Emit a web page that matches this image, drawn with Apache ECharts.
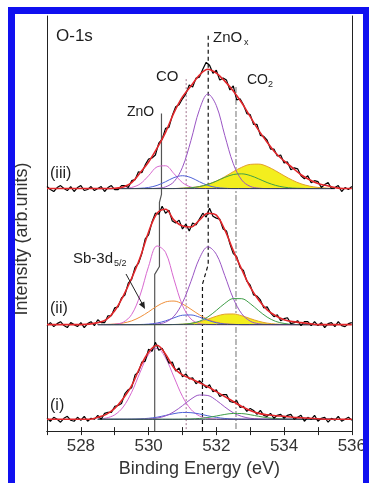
<!DOCTYPE html>
<html>
<head>
<meta charset="utf-8">
<script src="https://cdn.jsdelivr.net/npm/echarts@6/dist/echarts.min.js"></script>
<style>
html,body{margin:0;padding:0;background:#fff;}
#chart{width:369px;height:483px;}
</style>
</head>
<body>
<div id="chart"></div>
<script>
// energy grids (eV)
var dataE = [
	527.0,527.1,527.2,527.3,527.4,527.5,527.6,527.7,527.8,527.9,
	528.0,528.1,528.2,528.3,528.4,528.5,528.6,528.7,528.8,528.9,
	529.0,529.1,529.2,529.3,529.4,529.5,529.6,529.7,529.8,529.9,
	530.0,530.1,530.2,530.3,530.4,530.5,530.6,530.7,530.8,530.9,
	531.0,531.1,531.2,531.3,531.4,531.5,531.6,531.7,531.8,531.9,
	532.0,532.1,532.2,532.3,532.4,532.5,532.6,532.7,532.8,532.9,
	533.0,533.1,533.2,533.3,533.4,533.5,533.6,533.7,533.8,533.9,
	534.0,534.1,534.2,534.3,534.4,534.5,534.6,534.7,534.8,534.9,
	535.0,535.1,535.2,535.3,535.4,535.5,535.6,535.7,535.8,535.9,
	536.0];
var fitE = [527,527.25,527.5,527.75,528,528.25,528.5,528.75,529,529.25,529.5,529.75,
	530,530.25,530.5,530.75,531,531.25,531.5,531.75,532,532.25,532.5,532.75,
	533,533.25,533.5,533.75,534,534.25,534.5,534.75,535,535.25,535.5,535.75,536];
var compE = [528.5,528.75,529,529.25,529.5,529.75,530,530.25,530.5,530.75,531,531.25,531.5,531.75,
	532,532.25,532.5,532.75,533,533.25,533.5,533.75,534,534.25,534.5,534.75,535,535.25,535.5];
var bgE = [528.5, 535.5];
var bgLevel = [0, 0];

// vertical offsets of the stacked spectra
var offIII = 246, offII = 108, offI = 12;

// ---- (iii)
var rawIII = [
	2,-1,-3,1,3,0,-2,2,-3,1,
	3,-2,-1,2,-2,0,2,-3,1,3,
	-1,-1,3,3,1,8,9,17,16,24,
	30,31,34,46,50,61,62,74,83,85,
	91,96,105,103,112,113,121,128,125,117,
	120,110,112,110,100,104,90,91,85,76,
	75,65,65,54,53,49,40,40,33,34,
	26,27,19,21,20,13,10,13,6,8,
	7,1,4,6,0,1,3,-3,1,-1,
	2];
var fitIII = [0,0,0,0,0,0,0,0,0.3,1.5,6,16,27,41,57,77,93,104,115,121,117,109,99,87,73,59,47,36,28,21,14,9,5,3,1,0,0];
var znoIII  = [0,0,0,0.2,1.1,4.7,13,22,23.1,15.1,6,1.5,0.2,0,0,0,0,0,0,0,0,0,0,0,0,0,0,0,0];
var coIII   = [0,0,0,0,0,0.3,1.1,3.2,6.9,11.1,13,11.1,6.9,3.2,1.1,0.3,0,0,0,0,0,0,0,0,0,0,0,0,0];
var znoxIII = [0,0,0,0,0,0,0,0.3,1.7,7,21.6,48.7,79.9,95.9,84.1,53.8,25.2,8.6,2.2,0.4,0,0,0,0,0,0,0,0,0];
var co2III  = [0,0,0,0,0,0,0,0,0,0,0.3,0.8,2,4.2,7.5,11.3,14.2,14.9,13.2,9.8,6.1,3.2,1.4,0.5,0.2,0,0,0,0];
var yelIII  = [0,0,0,0,0,0,0,0,0,0,0.4,1,2.1,4.3,7.6,12,17.1,21.6,24.5,24.8,22.4,18,13,8.4,4.8,2.5,1.1,0.5,0.2];

// ---- (ii)
var rawII = [
	-1,2,-2,1,3,-1,-3,2,0,-2,
	2,-3,1,3,-1,5,2,2,9,9,
	17,18,27,30,42,46,58,62,72,87,
	91,104,113,112,120,113,116,105,103,106,
	97,102,95,103,101,107,113,109,118,110,
	108,107,97,95,82,72,69,58,55,44,
	40,30,29,25,17,18,12,8,10,4,
	6,7,1,2,4,-1,3,3,-1,3,
	-1,2,-3,1,2,-2,3,-1,-2,1,
	2];
var fitII = [0,0,0,0,0,0.5,2,5,14,29,47,68,94,113,117,106,100,99,106,113,111,96,75,56,38,25,15,9,5,3,2,1,0,0,0,0,0];
var znoII  = [0,0,0.4,2.4,10.3,29.9,59.1,79.8,73.3,45.8,19.5,5.7,1.1,0.2,0,0,0,0,0,0,0,0,0,0,0,0,0,0,0];
var sbII   = [0.1,0.2,0.6,1.6,3.8,7.7,13,18.8,23,23.9,20.9,15.6,9.9,5.3,2.4,0.9,0.3,0,0,0,0,0,0,0,0,0,0,0,0];
var coII   = [0,0,0,0,0,0.1,0.5,1.6,3.8,6.9,9.5,9.8,7.6,4.4,1.9,0.6,0.2,0,0,0,0,0,0,0,0,0,0,0,0];
var znoxII = [0,0,0,0,0,0,0.1,0.6,2.5,8.5,22.1,43.8,67.1,78.9,71.3,49.7,26.6,11,3.5,0.9,0.2,0,0,0,0,0,0,0,0];
var co2II  = [0,0,0,0,0,0,0,0,0,0.1,0.4,1.2,3.4,7.8,14.4,21.5,26.4,26.3,21.3,14.1,7.6,3.3,1.2,0.3,0,0,0,0,0];
var yelII  = [0,0,0,0,0,0,0,0,0,0.1,0.4,1.3,2.9,5.5,8.5,10.6,10.8,9,6.1,3.4,1.5,0.6,0.2,0,0,0,0,0,0];

// ---- (i)
var rawI = [
	1,-2,2,0,-3,1,3,-1,-2,2,
	-1,3,-2,1,0,4,0,6,7,7,
	13,14,16,26,30,32,45,48,58,59,
	71,69,78,70,72,65,57,58,49,52,
	43,46,41,42,36,39,36,32,35,28,
	30,23,25,25,18,17,19,12,13,8,
	11,9,5,9,4,3,6,1,4,5,
	1,4,5,0,2,4,-2,2,0,4,
	-2,1,2,-3,1,-1,3,-2,0,2,
	-1];
var fitI = [0,0,0,0,0,0,2,5,11,21,34,53,68,75,66,52,45,41,37,33,28,23,18,13,9,6,4.5,3.5,3,2,1.5,1,0.5,0,0,0,0];
var znoI  = [0.3,1.3,4.5,12.5,27.4,47.7,65.8,71.9,62.2,42.7,23.2,10,3.4,0.9,0.2,0,0,0,0,0,0,0,0,0,0,0,0,0,0];
var znoxI = [0,0,0,0,0,0.1,0.4,1.2,3.4,7.7,13.8,20.4,24.6,24.1,19.2,12.5,6.6,2.9,1,0.3,0,0,0,0,0,0,0,0,0];
var coI   = [0,0,0,0,0.1,0.4,1,2.1,3.9,5.7,6.9,6.7,5.4,3.5,1.9,0.8,0.3,0.1,0,0,0,0,0,0,0,0,0,0,0];
var co2I  = [0,0,0,0,0,0,0,0,0,0,0.1,0.3,0.8,1.8,3.3,4.9,5.9,5.8,4.6,3,1.6,0.7,0.2,0,0,0,0,0,0];

// reference lines [energy, intensity]
var znoRef  = [[530.38,322],[530.38,240],[530.32,232],[530.32,167],[530.18,159],[530.18,0]];
var coRef   = [[531.11,357],[531.11,0]];
var znoxRef = [[531.76,401],[531.76,169],[531.59,149],[531.59,0]];
var co2Ref  = [[532.58,349],[532.58,0]];

var xTicks = [528, 530, 532, 534, 536];

function pairs(xs, ys, off){
	var out = [];
	for(var i=0;i<xs.length;i++){
		out.push([xs[i], ys[i] + off]);
	}
	return out;
}

function curve(xs, ys, off, color, width, z){
	return {
		type:'line', data: pairs(xs, ys, off), symbol:'none', silent:true,
		smooth: 0.35, z: z || 3,
		lineStyle:{color: color, width: width || 1}
	};
}

function refLine(pts, color, type){
	return {
		type:'line', data: pts, symbol:'none', silent:true, z: 2,
		lineStyle:{color: color, width: 1.2, type: type}
	};
}

var PINK = '#d868d0', VIOLET = '#9a55c4', BLUE = '#4f62d8', GREEN = '#3f9e48',
	ORANGE = '#f0903a', YLINE = '#e3a02c', YFILL = '#f3ee1e', RED = '#e2262a', BG = '#39435a';

var series = [];
series.push(refLine(znoRef, '#555555', 'solid'));
series.push(refLine(coRef, '#b08aa0', [2,2]));
series.push(refLine(znoxRef, '#111111', [4,3]));
series.push(refLine(co2Ref, '#8a8a8a', [6,2,2,2]));

var yIII = curve(compE, yelIII, offIII, YLINE, 1);
yIII.areaStyle = {color: YFILL, opacity: 1, origin: offIII};
series.push(yIII);
series.push(curve(compE, znoIII, offIII, PINK));
series.push(curve(compE, coIII, offIII, BLUE));
series.push(curve(compE, znoxIII, offIII, VIOLET));
series.push(curve(compE, co2III, offIII, GREEN));
series.push(curve(bgE, bgLevel, offIII, BG));

var yII = curve(compE, yelII, offII, YLINE, 1);
yII.areaStyle = {color: YFILL, opacity: 1, origin: offII};
series.push(yII);
series.push(curve(compE, sbII, offII, ORANGE));
series.push(curve(compE, znoII, offII, PINK));
series.push(curve(compE, coII, offII, BLUE));
series.push(curve(compE, znoxII, offII, VIOLET));
series.push(curve(compE, co2II, offII, GREEN));
series.push(curve(bgE, bgLevel, offII, BG));

series.push(curve(compE, znoI, offI, PINK));
series.push(curve(compE, coI, offI, BLUE));
series.push(curve(compE, znoxI, offI, VIOLET));
series.push(curve(compE, co2I, offI, GREEN));
series.push(curve(bgE, bgLevel, offI, BG));

[[rawIII, offIII],[rawII, offII],[rawI, offI]].forEach(function(s){
	var c = curve(dataE, s[0], s[1], '#000000', 1.2, 4);
	c.smooth = false;
	series.push(c);
});
[[fitIII, offIII],[fitII, offII],[fitI, offI]].forEach(function(s){
	series.push(curve(fitE, s[0], s[1], RED, 1.6, 5));
});

var FONT = '"Liberation Sans", Arial, sans-serif';
function label(txt, x, y, size){
	return {type:'text', x:x, y:y, z:50, silent:true,
		style:{text:txt, fontSize:size, fontFamily:FONT, fill:'#1e1e1e', align:'left', verticalAlign:'middle'}};
}

var chart = echarts.init(document.getElementById('chart'));
var option = {
	animation:false,
	backgroundColor:'#ffffff',
	grid:{left:47, top:16, width:306, height:421},
	xAxis:[{
		type:'value', min:527, max:536, interval:1, position:'bottom',
		axisLine:{lineStyle:{color:'#222', width:1}},
		axisTick:{inside:true, length:4, lineStyle:{color:'#222'}},
		axisLabel:{
			formatter:function(v){ return xTicks.indexOf(v) >= 0 ? String(v) : ''; },
			fontSize:17, color:'#333', fontFamily:FONT, margin:7
		},
		splitLine:{show:false},
		name:'Binding Energy (eV)', nameLocation:'middle', nameGap:27,
		nameTextStyle:{fontSize:18, color:'#333', fontFamily:FONT}
	},{
		type:'value', min:527, max:536, interval:1, position:'top',
		axisLine:{lineStyle:{color:'#222', width:1}},
		axisTick:{inside:true, length:4, lineStyle:{color:'#222'}},
		axisLabel:{show:false}, splitLine:{show:false}
	}],
	yAxis:[{
		type:'value', min:0, max:421, position:'left',
		axisLine:{show:true, lineStyle:{color:'#222', width:1}},
		axisTick:{show:false}, axisLabel:{show:false}, splitLine:{show:false}
	},{
		type:'value', min:0, max:421, position:'right',
		axisLine:{show:true, lineStyle:{color:'#222', width:1}},
		axisTick:{show:false}, axisLabel:{show:false}, splitLine:{show:false}
	}],
	series:series,
	graphic:[
		label('O-1s', 56, 36, 17),
		label('ZnO', 213, 38, 15), label('x', 244, 43, 9),
		label('CO', 156, 77, 15),
		label('CO', 247, 80, 14), label('2', 268, 85, 9),
		label('ZnO', 127, 112, 14),
		label('(iii)', 50, 174, 16),
		label('(ii)', 50, 309, 16),
		label('(i)', 50, 406, 16),
		label('Sb-3d', 73, 259, 15), label('5/2', 114, 264, 9),
		{type:'line', z:50, silent:true, shape:{x1:126, y1:274, x2:144, y2:307},
			style:{stroke:'#222', lineWidth:1}},
		{type:'polygon', z:50, silent:true, shape:{points:[[145,309],[138.9,304.2],[144.3,301.4]]},
			style:{fill:'#222'}},
		{type:'text', x:22, y:239, rotation:Math.PI/2, z:50, silent:true,
			style:{text:'Intensity (arb.units)', fontSize:18, fontFamily:FONT, fill:'#333', align:'center', verticalAlign:'middle'}},
		{type:'rect', z:100, silent:true, shape:{x:11.5, y:10.5, width:355, height:490},
			style:{fill:'none', stroke:'#1010f0', lineWidth:7}}
	]
};
chart.setOption(option);
</script>
</body>
</html>
